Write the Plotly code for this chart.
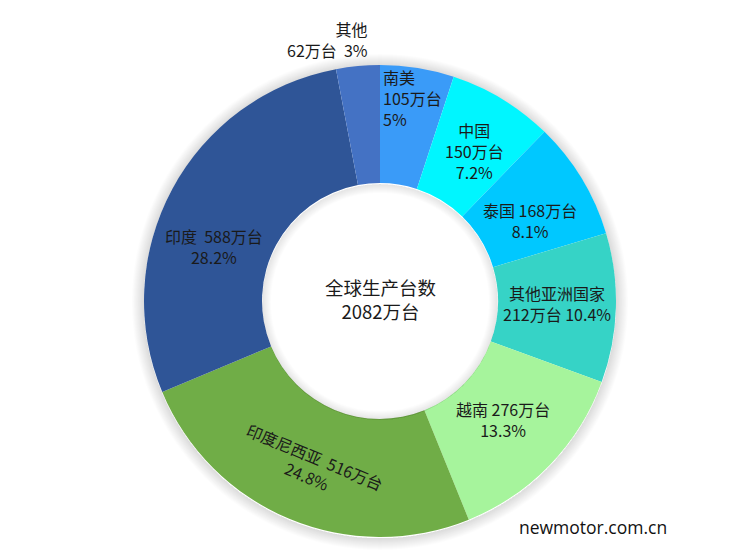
import math
import plotly.graph_objects as go

# Data
regions = ['南美', '中国', '泰国', '其他亚洲国家', '越南', '印度尼西亚', '印度', '其他']
units = [105, 150, 168, 212, 276, 516, 588, 62]          # 万台
shares = ['5%', '7.2%', '8.1%', '10.4%', '13.3%', '24.8%', '28.2%', '3%']
total_label = '2082万台'

colors = ['#3A9BF8', '#00F6FF', '#00C8FF', '#36D3C6', '#A6F49C', '#70AD47', '#2F5597', '#4472C4']

FONT = 'Noto Sans CJK SC, Microsoft YaHei, sans-serif'
W, H = 746, 558
OFF = 8                        # page body margin in the screenshot
CX, CY, R = 380, 301, 236      # donut centre / radius, screen pixels
HOLE = 0.5

# label layouts follow the picture's line breaks
label_text = [
    '南美<br>{}万台<br>{}'.format(units[0], shares[0]),
    '中国<br>{}万台<br>{}'.format(units[1], shares[1]),
    '泰国 {}万台<br>{}'.format(units[2], shares[2]),
    '其他亚洲国家<br>{}万台 {}'.format(units[3], shares[3]),
    '越南 {}万台<br>{}'.format(units[4], shares[4]),
    '印度尼西亚  {}万台<br>{}'.format(units[5], shares[5]),
    '印度  {}万台<br>{}'.format(units[6], shares[6]),
    '其他<br>{}万台  {}'.format(units[7], shares[7]),
]
# radial factor, angle nudge, alignment, rotate along ring
label_style = [
    dict(rf=0.87, da=0, align='left', rot=False),
    dict(rf=0.75, da=1, align='center', rot=False),
    dict(rf=0.72, da=3, align='center', rot=False),
    dict(rf=0.75, da=-1, align='center', rot=False),
    dict(rf=0.725, da=0, align='center', rot=False),
    dict(rf=0.76, da=0, align='center', rot=True),
    dict(rf=0.74, da=-10, align='center', rot=False),
    dict(rf=1.13, da=-6, align='right', rot=False),
]


def mid_angle(i):
    """clockwise angle from 12 o'clock to the middle of slice i, degrees"""
    return (sum(units[:i]) + units[i] / 2) / sum(units) * 360


def to_paper(sx, sy):
    return (sx - OFF) / W, 1 - (sy - OFF) / H


def domain_for(radius, dy=0):
    x0, y0 = to_paper(CX - radius, CY + dy + radius)
    x1, y1 = to_paper(CX + radius, CY + dy - radius)
    return dict(x=[x0, x1], y=[y0, y1])


def shadow_ring(radius, hole):
    """faint grey annulus used to fake the soft drop shadow"""
    return go.Pie(values=[1], labels=[''], textinfo='none', hoverinfo='skip',
                  hole=hole, sort=False, showlegend=False,
                  marker=dict(colors=['rgba(0,0,0,0.013)'], line=dict(width=0)),
                  domain=domain_for(radius, dy=1))


fig = go.Figure()

# outer soft shadow
for k in range(1, 13):
    fig.add_trace(shadow_ring(R + k, R / (R + k)))

fig.add_trace(go.Pie(
    labels=regions, values=units,
    textinfo='none',
    sort=False, direction='clockwise', rotation=0,
    hole=HOLE,
    marker=dict(colors=colors, line=dict(width=0)),
    domain=domain_for(R),
    showlegend=False,
))

# inner shadow along the hole edge
rh = R * HOLE
for k in range(1, 10):
    fig.add_trace(shadow_ring(rh, (rh - k) / rh))

for i, st in enumerate(label_style):
    mid = mid_angle(i)
    a = math.radians(mid + st['da'])
    r = R * st['rf']
    px_, py_ = to_paper(CX + r * math.sin(a), CY - r * math.cos(a))
    fig.add_annotation(text=label_text[i], x=px_, y=py_,
                       xref='paper', yref='paper', showarrow=False,
                       xanchor='center', yanchor='middle',
                       align=st['align'],
                       textangle=(mid - 180) if st['rot'] else 0,
                       font=dict(family=FONT, size=16, color='#1a1a1a'))

# centre caption
cx_p, cy_p = to_paper(CX, CY - 2)
fig.add_annotation(text='全球生产台数<br>' + total_label, x=cx_p, y=cy_p,
                   xref='paper', yref='paper', showarrow=False,
                   xanchor='center', yanchor='middle',
                   font=dict(family=FONT, size=18.5, color='#1a1a1a'))
# watermark
wx, wy = to_paper(593, 527)
fig.add_annotation(text='newmotor.com.cn', x=wx, y=wy,
                   xref='paper', yref='paper', showarrow=False,
                   xanchor='center', yanchor='middle',
                   font=dict(family='Open Sans, sans-serif', size=17.5, color='#111'))

fig.update_layout(width=W, height=H, margin=dict(l=0, r=0, t=0, b=0),
                  paper_bgcolor='white', plot_bgcolor='white')
fig.write_html('out.html')
